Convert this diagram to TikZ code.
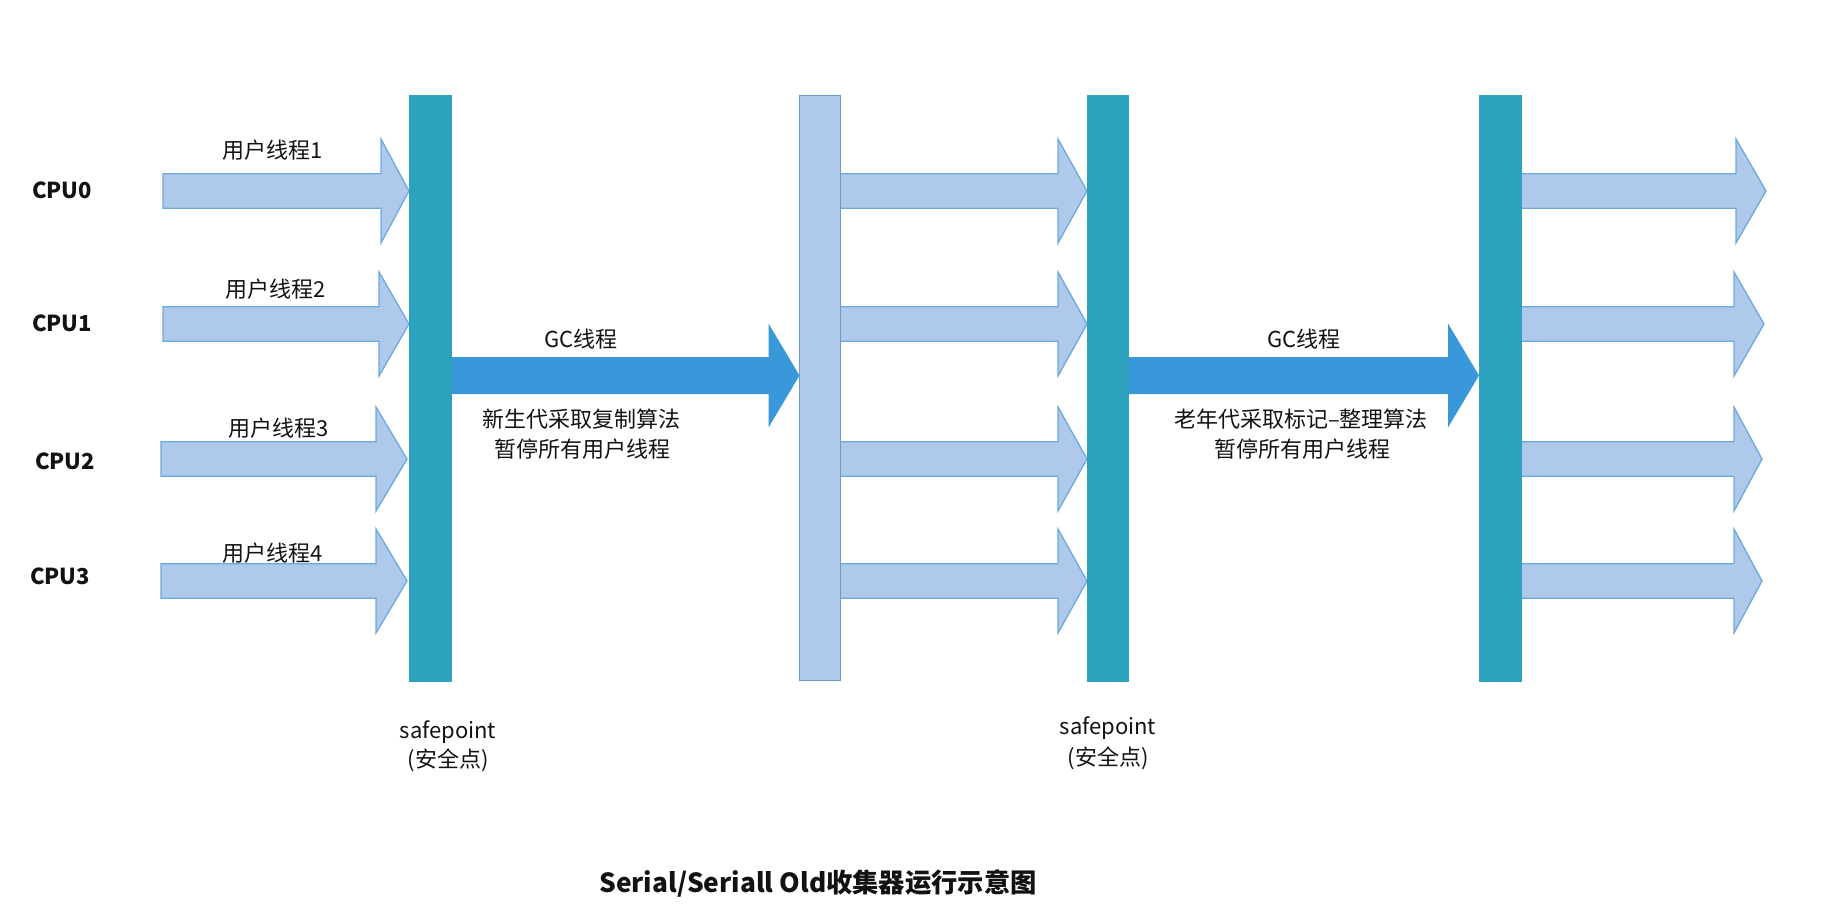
\documentclass[tikz,border=0pt]{standalone}
\usepackage{fontspec}
\setmainfont{Noto Sans CJK SC}
\usetikzlibrary{calc}
\definecolor{tealbar}{RGB}{44,162,190}
\definecolor{lightfill}{RGB}{174,201,233}
\definecolor{lightedge}{RGB}{108,170,222}
\definecolor{gcblue}{RGB}{56,152,218}
\definecolor{txt}{RGB}{18,18,18}
% block arrow: #1 style, #2 start, #3 tip, #4 shaft half, #5 head half, #6 head length
\newcommand{\blkarrow}[6]{%
  \path[#1] let \p1=(#2), \p2=(#3) in
    (\x1,\y2+#4pt) -- (\x2-#6pt,\y2+#4pt) -- (\x2-#6pt,\y2+#5pt) -- (\x2,\y2)
    -- (\x2-#6pt,\y2-#5pt) -- (\x2-#6pt,\y2-#4pt) -- (\x1,\y2-#4pt) -- cycle;}
\begin{document}
\begin{tikzpicture}[x=1pt,y=-1pt,
  every node/.style={inner sep=0pt,outer sep=0pt,text=txt},
  lbl/.style={font=\fontsize{22}{26}\selectfont},
  cpu/.style={font=\fontsize{22}{26}\selectfont\bfseries},
  ttl/.style={font=\fontsize{26.3}{30}\selectfont\bfseries},
  tbar/.style={fill=tealbar,draw=tealbar,line width=0.5pt,minimum width=42pt,minimum height=586pt},
  lbar/.style={fill=lightfill,draw=lightedge!85!black!90,line width=1.2pt,minimum width=41pt,minimum height=585pt},
  uarrow/.style={fill=lightfill,draw=lightedge,line width=1.3pt,line join=miter},
  gcarrow/.style={fill=gcblue}]
\useasboundingbox (0,0) rectangle (1832,924);

% row coordinates
\coordinate (r0) at (0,191);
\coordinate (r1) at (0,324);
\coordinate (r2) at (0,459);
\coordinate (r3) at (0,581);
\coordinate (rg) at (0,375.5);

% arrow start points of the first column
\coordinate (s0) at (163,191);
\coordinate (s1) at (163,324);
\coordinate (s2) at (161,459);
\coordinate (s3) at (161,581);

% bars (positions)
\path (430,388) coordinate (pb1) (820,388) coordinate (pb2)
      (1107.5,388) coordinate (pb3) (1500,388) coordinate (pb4);
\path (1766,191) coordinate (e0) (1764,324) coordinate (e1)
      (1762,459) coordinate (e2) (1762,581) coordinate (e3);

% bar nodes (named first, painted after the arrows)
\path node[tbar,draw=none,fill=none] (b1) at (pb1) {}
      node[lbar,draw=none,fill=none] (b2) at (pb2) {}
      node[tbar,draw=none,fill=none,minimum width=41pt] (b3) at (pb3) {}
      node[tbar,draw=none,fill=none] (b4) at (pb4) {};

% column 1 user-thread arrows
\blkarrow{uarrow}{s0}{$(b1.west|-r0)$}{17.3}{52}{28}
\blkarrow{uarrow}{s1}{$(b1.west|-r1)$}{17.3}{52}{30}
\blkarrow{uarrow}{s2}{$(b1.west|-r2)+(-2,0)$}{17.3}{52}{31}
\blkarrow{uarrow}{s3}{$(b1.west|-r3)+(-2,0)$}{17.3}{52}{31}

% column 2 user-thread arrows
\blkarrow{uarrow}{$(b2.east|-r0)$}{$(b3.west|-r0)$}{17.3}{52}{29}
\blkarrow{uarrow}{$(b2.east|-r1)$}{$(b3.west|-r1)$}{17.3}{52}{29}
\blkarrow{uarrow}{$(b2.east|-r2)$}{$(b3.west|-r2)$}{17.3}{52}{29}
\blkarrow{uarrow}{$(b2.east|-r3)$}{$(b3.west|-r3)$}{17.3}{52}{29}

% column 3 user-thread arrows
\blkarrow{uarrow}{$(b4.east|-r0)$}{e0}{17.3}{52}{30}
\blkarrow{uarrow}{$(b4.east|-r1)$}{e1}{17.3}{52}{30}
\blkarrow{uarrow}{$(b4.east|-r2)$}{e2}{17.3}{52}{28}
\blkarrow{uarrow}{$(b4.east|-r3)$}{e3}{17.3}{52}{28}

% GC arrows
\blkarrow{gcarrow}{$(b1.east|-rg)$}{$(b2.west|-rg)$}{18.5}{52}{31}
\blkarrow{gcarrow}{$(b3.east|-rg)$}{$(b4.west|-rg)$}{18.5}{52}{31}

% bars drawn
\node[tbar] at (pb1) {};
\node[lbar] at (pb2) {};
\node[tbar,minimum width=41pt] at (pb3) {};
\node[tbar] at (pb4) {};

% CPU labels
\node[cpu] (c0) at (62,190) {CPU0};
\node[cpu] (c1) at (62,323) {CPU1};
\node[cpu] (c2) at (65,461) {CPU2};
\node[cpu] (c3) at (60,576) {CPU3};

% thread labels
\node[lbl] (t1) at (273,150) {用户线程1};
\node[lbl] (t2) at (276,289) {用户线程2};
\node[lbl] (t3) at (279,428) {用户线程3};
\node[lbl] (t4) at (273,553) {用户线程4};

% GC labels
\node[lbl] (g1) at (581,339) {GC线程};
\node[lbl] (g1a) at (581,419) {新生代采取复制算法};
\node[lbl] (g1b) at (582,449) {暂停所有用户线程};
\node[lbl] (g2) at (1304,339) {GC线程};
\node[lbl] (g2a) at (1301,419) {老年代采取标记–整理算法};
\node[lbl] (g2b) at (1302,449) {暂停所有用户线程};

% safepoint labels
\node[lbl] (sp1) at (448,732) {safepoint};
\node[lbl] (sp1b) at (448,760) {(安全点)};
\node[lbl] (sp2) at (1108,728) {safepoint};
\node[lbl] (sp2b) at (1108,758) {(安全点)};

% title
\node[ttl] (title) at (818,883) {Serial/Seriall Old收集器运行示意图};
\end{tikzpicture}
\end{document}
